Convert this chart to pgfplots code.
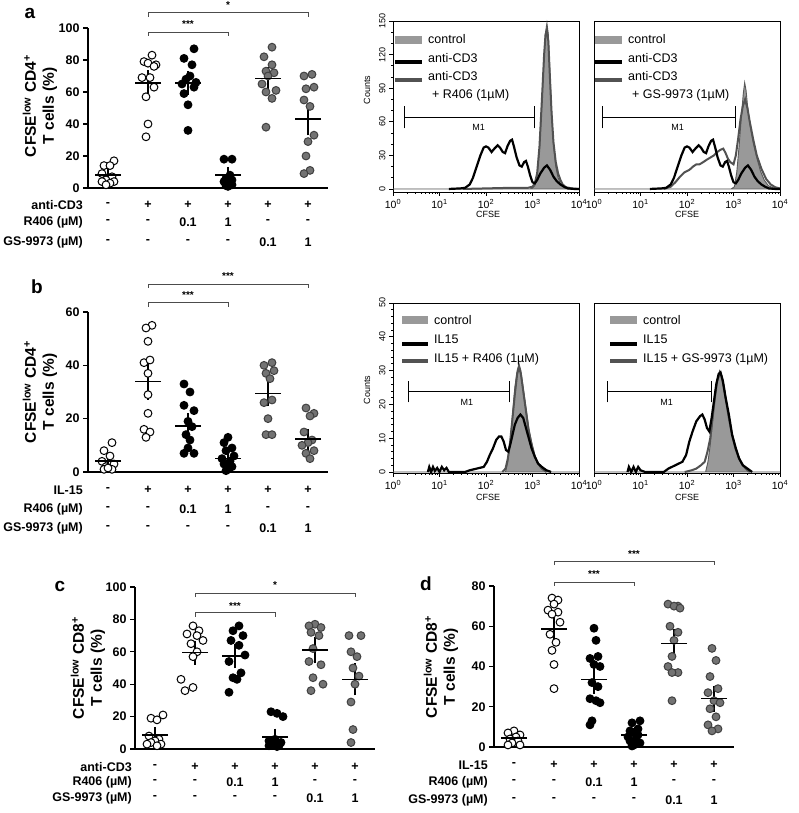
\documentclass[border=0pt]{standalone}
\usepackage{fontspec}
\setmainfont{Liberation Sans}
\usepackage{pgfplots}
\pgfplotsset{compat=1.18}
\definecolor{sgray}{gray}{0.45}
\definecolor{sedge}{gray}{0.25}
\definecolor{hfill}{gray}{0.6}
\definecolor{hedge}{gray}{0.35}
\definecolor{hline}{gray}{0.32}
\definecolor{brk}{gray}{0.3}
\newcommand\fs[1]{\fontsize{#1}{#1}\selectfont}
\tikzset{
 br/.style={brk, line width=0.9pt},
 st/.style={anchor=base, font=\bfseries\fs{10}, inner sep=0pt},
 rl/.style={font=\bfseries\fs{12.5}, inner sep=0pt},
 rn/.style={font=\bfseries\fs{12.5}, inner sep=0pt, anchor=east},
 pl/.style={font=\bfseries\fs{19}},
 yl/.style={font=\bfseries\fontsize{15.5}{18}\selectfont, rotate=90, align=center},
 lt/.style={font=\fs{12.5}, anchor=west, inner sep=0pt},
 sm/.style={font=\fs{9}},
}
\pgfplotsset{
 scat/.style={scale only axis, width=240pt, xmin=-0.5, xmax=5.5, ymin=0, anchor=south west,
   axis lines*=left, axis line style={-, line width=1.3pt}, xtick=\empty, tick align=outside,
   major tick length=5pt, tick style={line width=1.3pt, black},
   yticklabel style={font=\bfseries\fs{12.5}}, /pgf/number format/assume math mode=true, clip=false},
 openm/.style={only marks, mark=*, mark size=3.9pt, mark options={fill=white, draw=black, line width=1pt}},
 blackm/.style={only marks, mark=*, mark size=3.9pt, mark options={fill=black, draw=black, line width=1pt}},
 graym/.style={only marks, mark=*, mark size=3.9pt, mark options={fill=sgray, draw=sedge, line width=1pt}},
 msem/.style={only marks, mark=-, mark size=13pt, mark options={line width=1.6pt, black},
   error bars/.cd, y dir=both, y explicit, error bar style={line width=1.6pt, black},
   error mark options={mark size=5pt, line width=1.6pt, black}},
 hist/.style={scale only axis, width=186pt, anchor=south west, xmin=0, xmax=4,
   xtick={0,1,2,3,4},
   xticklabels={10\textsuperscript{0},10\textsuperscript{1},10\textsuperscript{2},10\textsuperscript{3},10\textsuperscript{4}},
   minor xtick={0.301,0.477,0.602,0.699,0.778,0.845,0.903,0.954,1.301,1.477,1.602,1.699,1.778,1.845,1.903,1.954,2.301,2.477,2.602,2.699,2.778,2.845,2.903,2.954,3.301,3.477,3.602,3.699,3.778,3.845,3.903,3.954},
   tick align=outside, tick pos=left, axis line style={line width=0.9pt},
   major tick length=4pt, minor tick length=2pt, tick style={black, line width=0.7pt},
   xticklabel style={font=\fs{10.5}}, yticklabel style={rotate=90, anchor=south, font=\fs{9}},
   /pgf/number format/assume math mode=true, clip=false},
 cfill/.style={fill=hfill, draw=hedge, line width=0.9pt},
 kline/.style={black, line width=2.2pt},
 gline/.style={hline, line width=2pt},
}
\begin{document}
\begin{tikzpicture}[x=1pt,y=1pt]
\useasboundingbox (0,0) rectangle (798,813);

% ================= Panel a scatter =================
\begin{axis}[scat, at={(88pt,625pt)}, height=160pt, ymax=100, ytick={0,20,40,60,80,100}]
\addplot[openm] coordinates {(0.15,17) (-0.1,14) (0.05,14) (-0.15,9) (0.1,7) (-0.05,5) (0.15,4) (-0.15,4) (0.05,3) (-0.05,2)};
\addplot[openm] coordinates {(1.1,83) (0.9,79) (1.0,78) (1.2,77) (1.15,76) (0.85,69) (1.05,69) (1.15,63) (0.95,57) (1.0,40) (0.95,32)};
\addplot[blackm] coordinates {(2.15,87) (1.9,81) (2.1,77) (2.05,70) (1.95,68) (2.2,66) (1.85,65) (2.15,63) (1.9,59) (2.0,52) (2.0,36)};
\addplot[blackm] coordinates {(2.9,18) (3.1,18) (3.05,8) (2.95,6) (3.1,5) (2.9,4) (3.0,3) (3.1,2) (2.95,1.5) (3.0,1)};
\addplot[graym] coordinates {(4.1,88) (3.9,82) (4.1,77) (3.95,73) (4.15,72) (4.0,70) (3.85,65) (4.2,61) (3.95,60) (4.1,56) (3.95,38)};
\addplot[graym] coordinates {(4.9,70) (5.1,71) (5.15,63) (4.95,62) (4.9,55) (5.05,51) (5.15,33) (5.0,29) (4.95,20) (5.05,11) (4.9,9)};
\addplot[msem] coordinates {(0,8) +- (0,1.5) (1,65.5) +- (0,5) (2,65.5) +- (0,4.5) (3,8) +- (0,2) (4,68.5) +- (0,4) (5,43) +- (0,7)};
\draw[br] (axis cs:1,106.9) |- (axis cs:5,109.4) -- (axis cs:5,106.9);
\draw[br] (axis cs:1,95) |- (axis cs:3,97.5) -- (axis cs:3,95);
\node[st] at (axis cs:3,111.9) {*};
\node[st] at (axis cs:2,100) {***};
\end{axis}

% ================= Panel b scatter =================
\begin{axis}[scat, at={(88pt,341pt)}, height=160pt, ymax=60, ytick={0,20,40,60}]
\addplot[openm] coordinates {(0.1,11) (-0.1,8) (0.05,6) (-0.15,4) (0.15,3) (-0.05,2) (0.1,1) (-0.1,1) (0.0,1.5)};
\addplot[openm] coordinates {(1.1,55) (0.95,54) (1.0,49) (0.9,41) (1.05,42) (1.0,37) (1.0,29) (1.0,22) (0.9,16) (1.05,15) (0.95,13)};
\addplot[blackm] coordinates {(1.9,33) (2.05,30) (1.9,25) (2.15,23) (2.0,19) (2.1,17) (1.95,14) (2.05,12) (2.0,9) (1.9,7) (2.15,7)};
\addplot[blackm] coordinates {(3.0,13) (2.9,11) (3.1,9) (2.95,8) (3.15,6) (2.85,5) (3.05,4) (2.9,3) (3.1,2) (3.0,1) (2.95,0.5)};
\addplot[graym] coordinates {(4.1,41) (3.9,40) (4.15,38) (3.95,37) (4.05,35) (4.1,27) (3.9,26) (4.0,20) (3.95,14) (4.1,14)};
\addplot[graym] coordinates {(4.95,24) (5.15,22) (5.05,21) (4.9,15) (5.1,12) (5.0,11) (4.85,10) (5.15,8) (4.95,7) (5.05,5)};
\addplot[msem] coordinates {(0,4.2) +- (0,1.2) (1,34) +- (0,5) (2,17.3) +- (0,2.8) (3,5) +- (0,1) (4,29.5) +- (0,3) (5,12.3) +- (0,2)};
\draw[br] (axis cs:1,69) |- (axis cs:5,70.5) -- (axis cs:5,69);
\draw[br] (axis cs:1,61.9) |- (axis cs:3,63.4) -- (axis cs:3,61.9);
\node[st] at (axis cs:3,72) {***};
\node[st] at (axis cs:2,64.9) {***};
\end{axis}

% ================= Panel c scatter =================
\begin{axis}[scat, at={(135pt,64pt)}, height=162pt, ymax=100, ytick={0,20,40,60,80,100}]
\addplot[openm] coordinates {(-0.1,19) (0.2,21) (0.05,18) (-0.15,8) (0.1,6) (0.0,5) (-0.1,4) (0.15,3) (-0.2,3) (0.05,2)};
\addplot[openm] coordinates {(0.95,76) (1.1,73) (0.8,71) (1.05,70) (1.2,67) (0.9,65) (1.05,60) (0.95,57) (0.65,43) (0.95,38) (0.75,36)};
\addplot[blackm] coordinates {(2.1,76) (1.95,73) (2.2,70) (1.9,67) (2.1,64) (2.25,58) (1.85,54) (2.15,47) (1.95,44) (2.05,43) (1.85,35)};
\addplot[blackm] coordinates {(2.9,23) (3.05,22) (3.2,20) (3.0,6) (2.85,5) (3.15,4) (2.95,3) (3.1,2) (2.85,2) (3.05,1.5)};
\addplot[graym] coordinates {(4.0,77) (3.85,76) (4.15,75) (3.9,72) (4.1,70) (3.95,62) (3.85,54) (4.15,52) (3.95,44) (4.2,40) (3.9,36)};
\addplot[graym] coordinates {(4.85,70) (5.15,70) (4.9,60) (5.05,57) (4.95,50) (5.1,45) (5.0,40) (4.9,29) (4.95,12) (4.9,4)};
\addplot[msem] coordinates {(0,8.5) +- (0,2) (1,59.5) +- (0,4.3) (2,57.5) +- (0,4.5) (3,7.5) +- (0,2) (4,61) +- (0,5) (5,43) +- (0,6.8)};
\draw[br] (axis cs:1,93.8) |- (axis cs:5,96.3) -- (axis cs:5,93.8);
\draw[br] (axis cs:1,81.5) |- (axis cs:3,84) -- (axis cs:3,81.5);
\node[st] at (axis cs:3,98.8) {*};
\node[st] at (axis cs:2,86.4) {***};
\end{axis}

% ================= Panel d scatter =================
\begin{axis}[scat, at={(494pt,66pt)}, height=161pt, ymax=80, ytick={0,20,40,60,80}]
\addplot[openm] coordinates {(0.0,8) (-0.15,7) (0.15,6) (0.05,5) (-0.1,4) (0.1,3) (-0.05,2) (0.15,1) (-0.15,1)};
\addplot[openm] coordinates {(0.95,74) (1.1,73) (1.0,71) (0.85,68) (1.1,67) (0.95,66) (1.15,62) (0.9,56) (1.05,52) (0.95,48) (1.0,41) (1.0,29)};
\addplot[blackm] coordinates {(2.0,59) (2.05,53) (2.1,45) (1.9,44) (2.0,41) (2.15,40) (1.95,32) (2.1,30) (1.9,24) (2.05,23) (2.15,22) (1.95,13) (1.9,11)};
\addplot[blackm] coordinates {(3.15,13) (2.95,12) (3.1,9) (2.9,8) (3.0,7) (3.1,6) (2.85,5) (3.05,4) (2.9,3) (3.15,2) (3.0,1) (2.95,0.5)};
\addplot[graym] coordinates {(3.85,71) (4.1,70) (4.0,70) (4.15,69) (3.9,60) (4.1,57) (4.0,53) (3.95,45) (3.85,40) (4.1,37) (3.95,37) (3.95,23)};
\addplot[graym] coordinates {(4.95,49) (5.05,43) (4.9,35) (5.1,29) (4.85,27) (5.0,23) (5.15,22) (4.9,19) (5.05,15) (4.85,11) (5.1,9) (4.95,8)};
\addplot[msem] coordinates {(0,4.5) +- (0,1) (1,58.5) +- (0,4) (2,33.5) +- (0,4.5) (3,6) +- (0,1.1) (4,51.5) +- (0,4.5) (5,24) +- (0,4)};
\draw[br] (axis cs:1,90.4) |- (axis cs:5,92.4) -- (axis cs:5,90.4);
\draw[br] (axis cs:1,80) |- (axis cs:3,82) -- (axis cs:3,80);
\node[st] at (axis cs:3,94.4) {***};
\node[st] at (axis cs:2,84) {***};
\end{axis}

% ================= Histograms top =================
\begin{axis}[hist, at={(393pt,621pt)}, height=171pt, ymin=-2.7, ymax=150, ytick={0,30,60,90,120,150}, minor y tick num=2]
\addplot[cfill] coordinates {(0,0) (2.95,0) (3.0,1) (3.05,3) (3.1,12) (3.15,35) (3.2,75) (3.25,118) (3.28,140) (3.31,148) (3.34,138) (3.37,108) (3.41,70) (3.45,40) (3.5,20) (3.55,10) (3.6,5) (3.65,2) (3.72,0.5) (3.8,0) (4,0)} \closedcycle;
\addplot[gline] coordinates {(1.5,0) (2.0,0.5) (2.5,1) (2.9,1) (3.0,2) (3.05,5) (3.1,14) (3.15,38) (3.2,78) (3.25,120) (3.28,138) (3.31,142) (3.34,132) (3.37,104) (3.41,68) (3.45,42) (3.5,24) (3.55,14) (3.6,8) (3.65,4) (3.72,1.5) (3.85,0.5) (4,0)};
\addplot[kline] coordinates {(1.2,0) (1.45,0.5) (1.55,1) (1.65,4) (1.72,10) (1.8,20) (1.88,30) (1.95,37) (2.0,38) (2.05,37) (2.12,33) (2.18,36) (2.25,39) (2.3,37) (2.36,33) (2.41,32) (2.46,38) (2.52,43) (2.56,44) (2.6,38) (2.66,28) (2.72,21) (2.77,20) (2.82,24) (2.86,25) (2.9,20) (2.95,12) (3.0,6) (3.05,5) (3.1,8) (3.17,14) (3.25,19) (3.31,21) (3.38,17) (3.45,11) (3.52,7) (3.6,4) (3.68,2) (3.76,0.5) (3.9,0) (4,0)};
\draw[black, line width=0.8pt] (axis cs:0.24,64) -- (axis cs:3.03,64);
\draw[black, line width=0.8pt] (axis cs:0.24,54) -- (axis cs:0.24,74);
\draw[black, line width=0.8pt] (axis cs:3.03,54) -- (axis cs:3.03,74);
\node[sm] at (axis cs:1.84,55) {M1};
\end{axis}
\begin{axis}[hist, at={(594pt,621pt)}, height=171pt, ymin=-2.7, ymax=150, ytick=\empty]
\addplot[cfill] coordinates {(0,0) (2.95,0) (3.02,2) (3.07,15) (3.12,38) (3.17,65) (3.21,85) (3.24,95) (3.27,88) (3.3,75) (3.35,58) (3.42,42) (3.5,28) (3.58,16) (3.66,8) (3.75,3) (3.85,1) (4,0)} \closedcycle;
\addplot[gline] coordinates {(1.5,0) (1.65,2) (1.75,6) (1.85,11) (1.95,15) (2.05,17) (2.13,20) (2.2,22) (2.27,22) (2.35,24) (2.42,26) (2.5,28) (2.58,30) (2.65,33) (2.72,35) (2.78,36) (2.83,32) (2.88,27) (2.93,24) (3.0,22) (3.05,30) (3.1,45) (3.15,62) (3.2,74) (3.25,80) (3.3,72) (3.35,60) (3.42,45) (3.5,30) (3.6,18) (3.7,9) (3.8,4) (3.9,1.5) (4,0.5)};
\addplot[kline] coordinates {(1.2,0) (1.45,0.5) (1.55,1) (1.65,4) (1.72,10) (1.8,20) (1.88,30) (1.95,37) (2.0,38) (2.05,37) (2.12,33) (2.18,36) (2.25,39) (2.3,37) (2.36,33) (2.41,32) (2.46,38) (2.52,43) (2.56,44) (2.6,38) (2.66,28) (2.72,21) (2.77,20) (2.82,24) (2.86,25) (2.9,20) (2.95,12) (3.0,6) (3.05,5) (3.1,8) (3.17,14) (3.25,19) (3.31,21) (3.38,17) (3.45,11) (3.52,7) (3.6,4) (3.68,2) (3.76,0.5) (3.9,0) (4,0)};
\draw[black, line width=0.8pt] (axis cs:0.18,64) -- (axis cs:3.03,64);
\draw[black, line width=0.8pt] (axis cs:0.18,54) -- (axis cs:0.18,74);
\draw[black, line width=0.8pt] (axis cs:3.03,54) -- (axis cs:3.03,74);
\node[sm] at (axis cs:1.8,55) {M1};
\end{axis}

% ================= Histograms bottom =================
\begin{axis}[hist, at={(393pt,340pt)}, height=170pt, ymin=-0.3, ymax=50, ytick={0,10,20,30,40,50}, minor y tick num=4]
\addplot[cfill] coordinates {(0,0) (2.42,0) (2.47,3) (2.52,9) (2.57,17) (2.62,25) (2.67,30) (2.71,32) (2.75,30) (2.8,25) (2.86,19) (2.92,13) (2.98,9) (3.05,5) (3.12,2.5) (3.2,1) (3.3,0) (4,0)} \closedcycle;
\addplot[gline] coordinates {(2.35,0) (2.42,1) (2.47,4) (2.52,9) (2.57,16) (2.62,23) (2.67,29) (2.71,31) (2.75,29) (2.8,24) (2.86,18) (2.92,12) (2.98,8) (3.05,4.5) (3.12,2.5) (3.2,1) (3.3,0)};
\addplot[kline] coordinates {(0.75,0) (0.78,1.5) (0.82,0) (0.86,1.5) (0.9,0.3) (0.95,1.2) (1.0,0) (1.05,1.5) (1.1,0.5) (1.15,1.2) (1.2,0) (1.55,0) (1.65,0.5) (1.8,1) (1.95,1.5) (2.02,3) (2.08,5) (2.15,7) (2.22,9.5) (2.28,10.5) (2.33,10.5) (2.38,9) (2.43,6.5) (2.48,6) (2.52,8) (2.57,11) (2.62,14) (2.68,16) (2.74,17) (2.8,16) (2.86,13) (2.92,10) (2.98,7) (3.05,4.5) (3.12,2.5) (3.2,1.5) (3.3,0.5) (3.4,0)};
\draw[black, line width=0.8pt] (axis cs:0.33,23.7) -- (axis cs:2.5,23.7);
\draw[black, line width=0.8pt] (axis cs:0.33,20.6) -- (axis cs:0.33,26.8);
\draw[black, line width=0.8pt] (axis cs:2.5,20.6) -- (axis cs:2.5,26.8);
\node[sm] at (axis cs:1.59,20.7) {M1};
\end{axis}
\begin{axis}[hist, at={(594pt,340pt)}, height=170pt, ymin=-0.3, ymax=50, ytick=\empty]
\addplot[cfill] coordinates {(0,0) (2.4,0) (2.45,3) (2.5,8) (2.55,15) (2.6,22) (2.65,27) (2.7,30) (2.74,29) (2.78,26) (2.84,21) (2.9,16) (2.97,11) (3.04,7) (3.12,4) (3.2,2) (3.3,0.5) (3.35,0) (4,0)} \closedcycle;
\addplot[gline] coordinates {(1.95,0) (2.1,0.5) (2.2,1) (2.3,2) (2.38,3) (2.44,6) (2.5,10) (2.55,16) (2.6,22) (2.65,27) (2.7,29) (2.74,28.5) (2.78,26) (2.84,21) (2.9,16) (2.97,11) (3.04,7) (3.12,4) (3.2,2) (3.3,0.5) (3.35,0)};
\addplot[kline] coordinates {(0.72,0) (0.75,1.5) (0.8,0) (0.85,1.5) (0.9,0) (0.95,1.5) (1.0,0.5) (1.1,0) (1.5,0) (1.6,1) (1.75,2) (1.9,3) (1.98,5) (2.05,9) (2.12,12) (2.2,15) (2.28,16.5) (2.33,17) (2.38,15.5) (2.43,13) (2.48,12) (2.53,16) (2.58,21) (2.63,26) (2.68,29) (2.72,29.5) (2.77,27) (2.83,22) (2.9,17) (2.97,11) (3.05,7) (3.12,4) (3.2,2) (3.3,1) (3.4,0)};
\draw[black, line width=0.8pt] (axis cs:0.28,23.7) -- (axis cs:2.52,23.7);
\draw[black, line width=0.8pt] (axis cs:0.28,20.6) -- (axis cs:0.28,26.8);
\draw[black, line width=0.8pt] (axis cs:2.52,20.6) -- (axis cs:2.52,26.8);
\node[sm] at (axis cs:1.56,20.7) {M1};
\end{axis}

% ================= Histogram legends and labels =================
\fill[hfill] (395,769) rectangle (422,777);
\draw[black, line width=3.5pt] (395,751) -- (422,751);
\draw[hline, line width=3.5pt] (395,733) -- (422,733);
\node[lt] at (428,774) {control};
\node[lt] at (428,755) {anti-CD3};
\node[lt] at (428,737) {anti-CD3};
\node[lt] at (432,718) {+ R406 (1µM)};
\fill[hfill] (595,769) rectangle (622,777);
\draw[black, line width=3.5pt] (595,751) -- (622,751);
\draw[hline, line width=3.5pt] (595,733) -- (622,733);
\node[lt] at (628,774) {control};
\node[lt] at (628,755) {anti-CD3};
\node[lt] at (628,737) {anti-CD3};
\node[lt] at (632,718) {+ GS-9973 (1µM)};
\fill[hfill] (402,489) rectangle (428,497);
\draw[black, line width=3.5pt] (402,469) -- (428,469);
\draw[hline, line width=3.5pt] (402,452) -- (428,452);
\node[lt] at (434,493) {control};
\node[lt] at (434,474) {IL15};
\node[lt] at (434,454) {IL15 + R406 (1µM)};
\fill[hfill] (610,489) rectangle (637,497);
\draw[black, line width=3.5pt] (610,469) -- (637,469);
\draw[hline, line width=3.5pt] (610,452) -- (637,452);
\node[lt] at (643,493) {control};
\node[lt] at (643,474) {IL15};
\node[lt] at (643,454) {IL15 + GS-9973 (1µM)};

\node[sm, rotate=90] at (367,723) {Counts};
\node[sm, rotate=90] at (367,423) {Counts};
\node[sm] at (488,599) {CFSE};
\node[sm] at (687,599) {CFSE};
\node[sm] at (488,316) {CFSE};
\node[sm] at (687,316) {CFSE};

% ================= Panel letters and y labels =================
\node[pl] at (30,800) {a};
\node[pl] at (37,526) {b};
\node[pl] at (60,227) {c};
\node[pl] at (426,229) {d};
\node[yl] at (40,707) {CFSE\textsuperscript{low} CD4\textsuperscript{+}\\T cells (\%)};
\node[yl] at (40,421) {CFSE\textsuperscript{low} CD4\textsuperscript{+}\\T cells (\%)};
\node[yl] at (88,145) {CFSE\textsuperscript{low} CD8\textsuperscript{+}\\T cells (\%)};
\node[yl] at (441,146) {CFSE\textsuperscript{low} CD8\textsuperscript{+}\\T cells (\%)};

% ================= Row labels =================
\node[rn] at (83,608) {anti-CD3};
\node[rn] at (83,591) {R406 (µM)};
\node[rn] at (83,571) {GS-9973 (µM)};
\foreach \x/\t in {108/-,148/+,188/+,228/+,268/+,308/+} \node[rl] at (\x,608) {\t};
\foreach \x/\t in {108/-,148/-,188/0.1,228/1,268/-,308/-} \node[rl] at (\x,591) {\t};
\foreach \x/\t in {108/-,148/-,188/-,228/-,268/0.1,308/1} \node[rl] at (\x,571) {\t};
\node[rn] at (83,323) {IL-15};
\node[rn] at (83,304) {R406 (µM)};
\node[rn] at (83,285) {GS-9973 (µM)};
\foreach \x/\t in {108/-,148/+,188/+,228/+,268/+,308/+} \node[rl] at (\x,323) {\t};
\foreach \x/\t in {108/-,148/-,188/0.1,228/1,268/-,308/-} \node[rl] at (\x,304) {\t};
\foreach \x/\t in {108/-,148/-,188/-,228/-,268/0.1,308/1} \node[rl] at (\x,285) {\t};
\node[rn] at (132,46) {anti-CD3};
\node[rn] at (132,31) {R406 (µM)};
\node[rn] at (132,15) {GS-9973 (µM)};
\foreach \x/\t in {155/-,195/+,235/+,275/+,315/+,355/+} \node[rl] at (\x,46) {\t};
\foreach \x/\t in {155/-,195/-,235/0.1,275/1,315/-,355/-} \node[rl] at (\x,31) {\t};
\foreach \x/\t in {155/-,195/-,235/-,275/-,315/0.1,355/1} \node[rl] at (\x,15) {\t};
\node[rn] at (488,48) {IL-15};
\node[rn] at (488,31) {R406 (µM)};
\node[rn] at (488,13) {GS-9973 (µM)};
\foreach \x/\t in {514/-,554/+,594/+,634/+,674/+,714/+} \node[rl] at (\x,48) {\t};
\foreach \x/\t in {514/-,554/-,594/0.1,634/1,674/-,714/-} \node[rl] at (\x,31) {\t};
\foreach \x/\t in {514/-,554/-,594/-,634/-,674/0.1,714/1} \node[rl] at (\x,13) {\t};
\end{tikzpicture}
\end{document}
